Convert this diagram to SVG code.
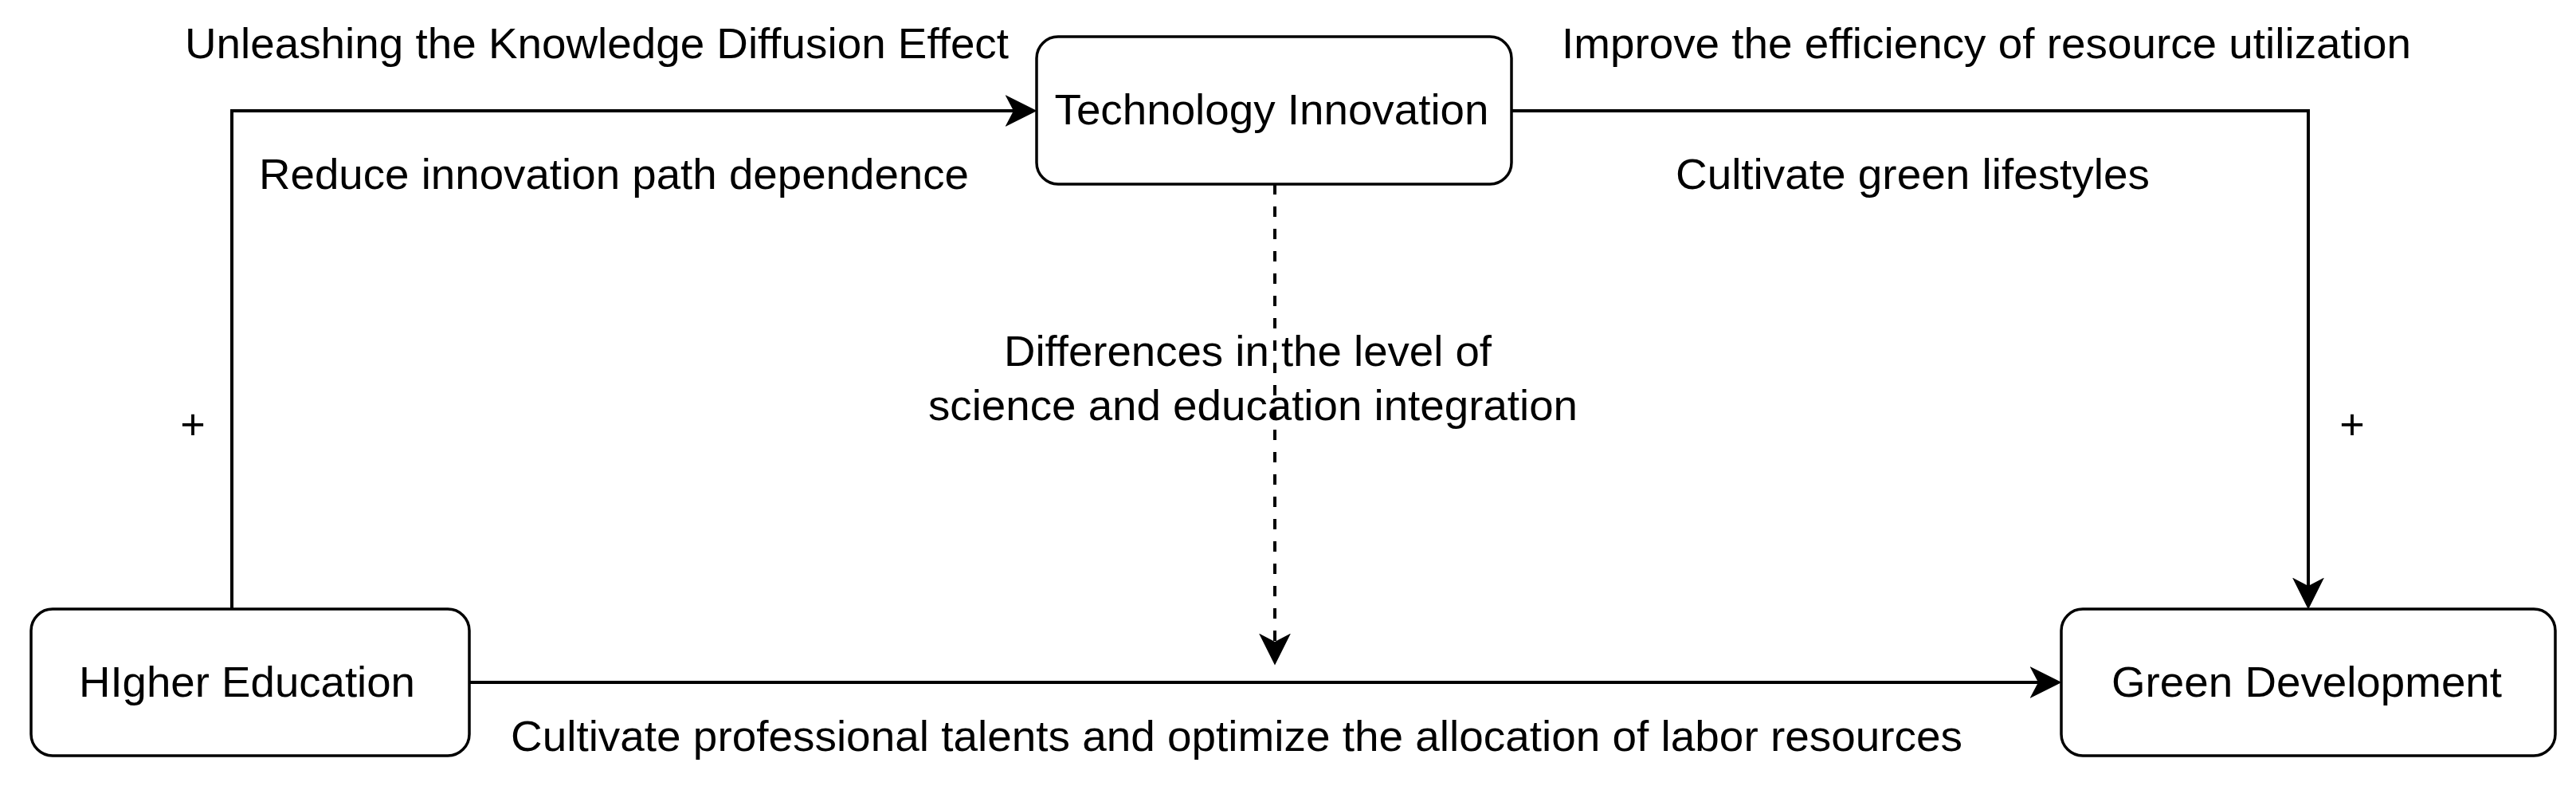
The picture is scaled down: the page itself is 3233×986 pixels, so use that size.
<svg xmlns="http://www.w3.org/2000/svg" width="3233" height="986" viewBox="0 0 3233 986">
<style>
.box{fill:#fff;stroke:#000;stroke-width:3.5}
.t{font-family:"Liberation Sans",Arial,Helvetica,sans-serif;font-size:54px;fill:#000}
.c{fill:none;stroke:#000;stroke-width:4}
.d{stroke-dasharray:13 15}
</style>
<defs>
<marker id="arr" markerUnits="userSpaceOnUse" markerWidth="40" markerHeight="40" viewBox="0 0 38 38" refX="28" refY="19" orient="auto">
<path d="M0,0 L38,19 L0,38 L10,19 Z" fill="#000"/>
</marker>
</defs>
<rect width="3233" height="986" fill="#fff"/>
<g id="connectors">
<path class="c" d="M291,764 V139 H1291" marker-end="url(#arr)"/>
<path class="c" d="M1897,139 H2897 V754" marker-end="url(#arr)"/>
<path class="c" d="M589,856 H2577" marker-end="url(#arr)"/>
<path class="c d" d="M1600,231 V824" marker-end="url(#arr)"/>
</g>
<g id="labels">
<text class="t" x="232" y="73" textLength="1034" lengthAdjust="spacingAndGlyphs">Unleashing the Knowledge Diffusion Effect</text>
<text class="t" x="1960" y="73" textLength="1066" lengthAdjust="spacingAndGlyphs">Improve the efficiency of resource utilization</text>
<text class="t" x="325" y="237" textLength="891" lengthAdjust="spacingAndGlyphs">Reduce innovation path dependence</text>
<text class="t" x="2103" y="237" textLength="595" lengthAdjust="spacingAndGlyphs">Cultivate green lifestyles</text>
<text class="t" x="1260" y="459" textLength="612" lengthAdjust="spacingAndGlyphs">Differences in the level of</text>
<text class="t" x="1165" y="527" textLength="815" lengthAdjust="spacingAndGlyphs">science and education integration</text>
<text class="t" x="641" y="942" textLength="1822" lengthAdjust="spacingAndGlyphs">Cultivate professional talents and optimize the allocation of labor resources</text>
<text class="t" x="242" y="551" text-anchor="middle">+</text>
<text class="t" x="2952" y="551" text-anchor="middle">+</text>
</g>
<g id="node-technology-innovation">
<rect class="box" x="1301" y="46" width="596" height="185" rx="27" ry="27"/>
<text class="t" x="1596" y="156" text-anchor="middle" textLength="545" lengthAdjust="spacingAndGlyphs">Technology Innovation</text>
</g>
<g id="node-higher-education">
<rect class="box" x="39" y="764" width="550" height="184" rx="27" ry="27"/>
<text class="t" x="310" y="874" text-anchor="middle" textLength="422" lengthAdjust="spacingAndGlyphs">HIgher Education</text>
</g>
<g id="node-green-development">
<rect class="box" x="2587" y="764" width="620" height="184" rx="27" ry="27"/>
<text class="t" x="2895" y="874" text-anchor="middle" textLength="490" lengthAdjust="spacingAndGlyphs">Green Development</text>
</g>
</svg>
